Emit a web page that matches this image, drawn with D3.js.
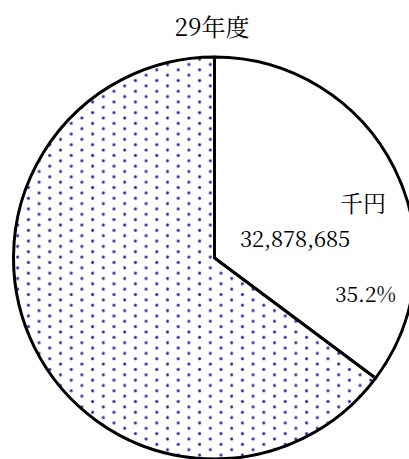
<!DOCTYPE html>
<html>
<head>
<meta charset="utf-8">
<script src="https://cdn.jsdelivr.net/npm/d3@7"></script>
<style>
  body { margin: 0; background: #fff; }
  svg { display: block; }
</style>
</head>
<body>
<div id="vis-container"></div>
<script>
// chart data
const title = "29年度";
const sliceNames = ["A", "B"];
const slicePercents = [35.2, 64.8];
const unitLabel = "千円";
const amountLabel = "32,878,685";
const percentLabel = "35.2%";

let width = 409;
let height = 459;
let cx = 214.5, cy = 258, radius = 201;

let svg = d3.select("#vis-container")
  .append("svg")
  .attr("width", width)
  .attr("height", height);

// dotted fill like the office "5%" pattern
let defs = svg.append("defs");
let pat = defs.append("pattern")
  .attr("id", "dots")
  .attr("patternUnits", "userSpaceOnUse")
  .attr("x", 4).attr("y", 2)
  .attr("width", 21.4)
  .attr("height", 10.7);
pat.append("rect").attr("width", 21.4).attr("height", 10.7).attr("fill", "#fff");
pat.append("circle").attr("cx", 2.5).attr("cy", 2.5).attr("r", 1.7).attr("fill", "#5a5ab8");
pat.append("circle").attr("cx", 13.2).attr("cy", 7.85).attr("r", 1.7).attr("fill", "#5a5ab8");
pat.append("circle").attr("cx", 2.5).attr("cy", 2.5).attr("r", 0.9).attr("fill", "#1a1a8c");
pat.append("circle").attr("cx", 13.2).attr("cy", 7.85).attr("r", 0.9).attr("fill", "#1a1a8c");

let fills = d3.scaleOrdinal().domain(sliceNames).range(["#ffffff", "url(#dots)"]);

let pie = d3.pie().sort(null).value(d => d.v);
let arc = d3.arc().innerRadius(0).outerRadius(radius);

let data = sliceNames.map((n, i) => ({ name: n, v: slicePercents[i] }));

let g = svg.append("g").attr("transform", `translate(${cx},${cy})`);

g.selectAll("path")
  .data(pie(data))
  .enter()
  .append("path")
  .attr("d", arc)
  .attr("fill", d => fills(d.data.name))
  .attr("stroke", "#000")
  .attr("stroke-width", 3)
  .attr("stroke-linejoin", "round");

const mincho = '"Noto Serif CJK JP"';

svg.append("text")
  .attr("x", 212).attr("y", 36)
  .attr("text-anchor", "middle")
  .attr("font-family", mincho)
  .attr("font-size", 24)
  .text(title);

svg.append("text")
  .attr("x", 363).attr("y", 212)
  .attr("text-anchor", "middle")
  .attr("font-family", mincho)
  .attr("font-size", 23)
  .text(unitLabel);

svg.append("text")
  .attr("x", 240).attr("y", 247)
  .attr("textLength", 110)
  .attr("font-family", mincho)
  .attr("font-size", 22)
  .text(amountLabel);

svg.append("text")
  .attr("x", 335).attr("y", 302)
  .attr("font-family", mincho)
  .attr("font-size", 21)
  .text(percentLabel);
</script>
</body>
</html>
